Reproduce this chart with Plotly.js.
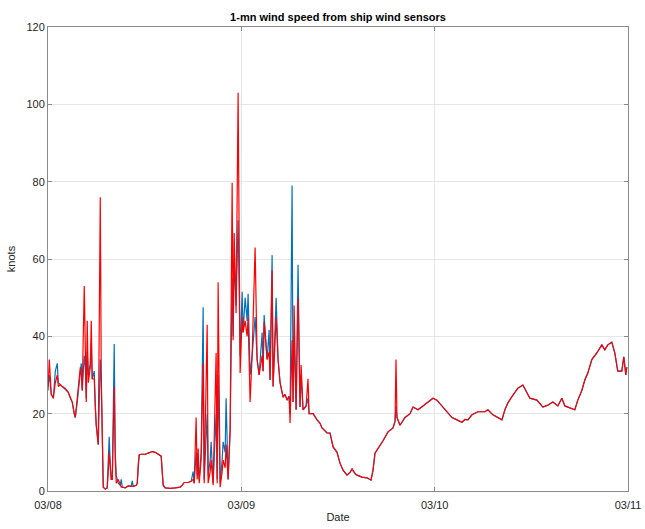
<!DOCTYPE html>
<html>
<head>
<meta charset="utf-8">
<script src="https://cdn.plot.ly/plotly-3.0.1.min.js"></script>
<style>html,body{margin:0;padding:0;background:#fff;}#chart{width:645px;height:529px;}</style>
</head>
<body>
<div id="chart"></div>
<script>
// hours since 03/08 00:00
const hours = [
0,0.16,0.41,0.66,0.91,1.15,1.28,1.53,1.77,
2.15,2.52,2.77,3.01,3.26,3.39,3.63,3.76,4.01,4.13,4.25,
4.50,4.63,4.75,4.87,5.00,5.25,5.37,5.49,5.74,5.87,5.99,6.24,
6.49,6.61,6.73,6.86,7.11,7.35,7.48,7.60,7.73,7.85,7.98,8.22,8.35,8.47,
8.72,8.97,9.09,9.22,9.59,9.96,10.33,10.46,10.58,10.95,11.08,11.20,
11.32,11.57,12.07,12.44,12.94,13.31,13.68,14.05,14.18,14.30,14.55,
15.17,15.79,16.41,16.66,16.91,17.40,17.77,18.02,18.15,18.39,18.52,18.64,18.77,
19.01,19.26,19.39,19.76,19.88,20.13,20.25,20.50,20.87,21.00,21.12,21.37,21.62,21.74,21.99,22.11,22.36,
22.61,22.86,22.98,23.11,23.35,23.60,23.85,24.10,24.22,24.47,24.72,24.84,25.09,25.34,
25.71,25.96,26.21,26.58,26.70,26.83,27.20,27.45,27.57,27.82,27.94,28.32,28.56,28.81,
29.18,29.43,29.68,29.93,30.05,30.30,30.42,30.55,30.80,31.04,31.29,31.42,31.66,32.04,32.28,32.41,
32.91,33.40,33.77,34.02,34.64,35.01,35.39,35.88,36.25,36.63,37.12,37.49,37.74,38.11,38.36,
38.98,39.60,40.10,40.35,40.59,40.97,41.59,42.21,42.83,43.08,43.20,43.32,43.70,
44.32,44.94,45.31,45.93,46.55,47.17,47.79,48.28,48.90,49.53,50.15,50.77,51.39,51.76,
52.13,52.63,53.37,54.24,54.61,55.23,55.85,56.35,56.72,57.09,57.59,57.96,58.33,58.95,59.45,59.82,
60.69,61.43,62.05,62.67,63.29,63.79,64.16,64.78,65.40,
65.77,66.27,66.64,67.01,67.51,68.13,68.75,69.12,69.49,69.99,70.36,70.73,71.23,71.48,71.73,71.85
];
// red sensor (knots)
const redSensor = [
26,34,25,24,28,30,27,27.5,27,
26.5,25.5,24,23,20,19,24,27,32,30,26,
53,30,23,44,28,32,44,29,29,22,17,12,
76,30,8,1,0.5,0.8,5,10,6,3,3,27,8,2,
3,1.5,1,1,0.8,1.3,1.2,1.2,1.2,1.5,2,7,
9.3,9.5,9.5,9.8,10.2,10,9.6,9,5,1.5,0.8,
0.7,0.8,1,1.5,2.2,2.2,2.5,3,2,19,3,11,2,
8,33,2,43,2,5,8,1.5,35.7,2,54,1,5,8,6,12,3,
15.8,79.7,39,66.7,46,103,30.5,45,41,44,40,45,23,35,
63,34,30,35,31,43.7,34,36,28.7,57,27,45,34,28,
24.3,25,23.5,24.5,17.6,39,23,48,21,50,21.7,32.6,21,22,29,20,
20,18.4,17.5,16.3,15,15,11.4,10,7.2,5.4,4.1,4.8,5.7,4.5,4.1,
3.6,3.4,2.8,5.4,9.8,11,13,15.3,16.3,18,34,19,17,
19,20,21.7,21,22,23,24,23.5,22,20.4,19,18.4,17.8,18.5,
18.4,19.7,20.5,20.5,21,19.7,19,18.4,21,22.8,24.4,25.6,26.6,27.4,25.6,24,
23.5,21.7,22.2,23,22,24,22,21.5,21,
23.5,26,28.7,30.5,34,35.7,37.8,36.5,37.8,38.5,35.7,31,31,34.7,30,32
];
// blue sensor (knots)
const blueSensor = [
27,30,25,24,31,33,28,27.5,27,
26.5,25.5,24,23,20,19,23,26,30,33,26,
35,32,24,36,30,33,38,29,31,22,17,12,
34,28,8,1,0.5,0.8,8,14,7,3,3,38,10,4,
2,1.5,3,1,0.8,1.3,1.2,2.6,1.2,1.5,2,7,
9.3,9.5,9.5,9.8,10.2,10,9.6,9,5,1.5,0.8,
0.7,0.8,1,1.5,2.2,2.2,2.5,5,2,10,4,6,3,
10,47.5,3,20,4,8,12.7,2,20,3,30,2,8,12.7,10,24,3,
15.8,55,40,60,48,70,35,51.5,41,50,44,51,30,35,
45,34,30,41,31,45.5,34,41.7,28.7,61,27,50,34,28,
24.3,25,23.5,24.5,20,79,23,40,21,58.5,21.7,30,21,22,24,20,
20,18.4,17.5,16.3,15,15,11.4,10,7.2,5.4,4.1,4.8,5.7,4.5,4.1,
3.6,3.4,2.8,5.4,9.8,11,13,15.3,16.3,18,22,19,17,
19,20,21.7,21,22,23,24,23.5,22,20.4,19,18.4,17.8,18.5,
18.4,19.7,20.5,20.5,21,19.7,19,18.4,21,22.8,24.4,25.6,26.6,27.4,25.6,24,
23.5,21.7,22.2,23,22,24,22,21.5,21,
23.5,26,28.7,30.5,34,35.7,37.8,36.5,37.8,38.5,35.7,31,31,34.7,30,32
];
const tickLabels = ['03/08','03/09','03/10','03/11'];
const tickDates = ['2024-03-08','2024-03-09','2024-03-10','2024-03-11'];

const t0 = Date.UTC(2024, 2, 8);
function toStr(h){ return new Date(t0 + h*3600000).toISOString().replace('T',' ').slice(0,19); }
const xs = hours.map(toStr);

const font = 'Liberation Sans, Arial, Helvetica, sans-serif';
const axisCommon = {
  ticks: 'inside', ticklen: 4, tickcolor: '#8a8a8a', tickwidth: 1,
  showline: true, linecolor: '#8a8a8a', linewidth: 1, mirror: 'ticks',
  showgrid: true, gridcolor: '#e6e6e6', gridwidth: 1, zeroline: false,
  tickfont: {family: font, size: 11, color: '#262626'}
};

const data = [
  {x: xs, y: blueSensor, type: 'scatter', mode: 'lines', line: {color: '#0072BD', width: 1.2}, showlegend: false, name: 'sensor 1'},
  {x: xs, y: redSensor, type: 'scatter', mode: 'lines', line: {color: '#FF0000', width: 1.2}, showlegend: false, name: 'sensor 2'}
];
const layout = {
  width: 645, height: 529,
  margin: {l: 48, r: 17, t: 27, b: 38},
  paper_bgcolor: '#ffffff', plot_bgcolor: '#ffffff',
  font: {family: font, color: '#262626'},
  title: {text: '<b>1-mn wind speed from ship wind sensors</b>', font: {family: font, size: 11, color: '#000000'},
          x: 0.5, xref: 'paper', xanchor: 'center', y: 1 - 17/529, yanchor: 'middle'},
  xaxis: Object.assign({}, axisCommon, {
    type: 'date', range: [tickDates[0], tickDates[3]],
    tickmode: 'array', tickvals: tickDates, ticktext: tickLabels,
    ticklabelstandoff: 4,
    title: {text: 'Date', font: {family: font, size: 11, color: '#262626'}, standoff: 3}
  }),
  yaxis: Object.assign({}, axisCommon, {
    range: [0, 120], tickmode: 'linear', tick0: 0, dtick: 20,
    title: {text: 'knots', font: {family: font, size: 11, color: '#262626'}, standoff: 8}
  })
};
Plotly.newPlot('chart', data, layout, {displayModeBar: false, staticPlot: true});
</script>
</body>
</html>
